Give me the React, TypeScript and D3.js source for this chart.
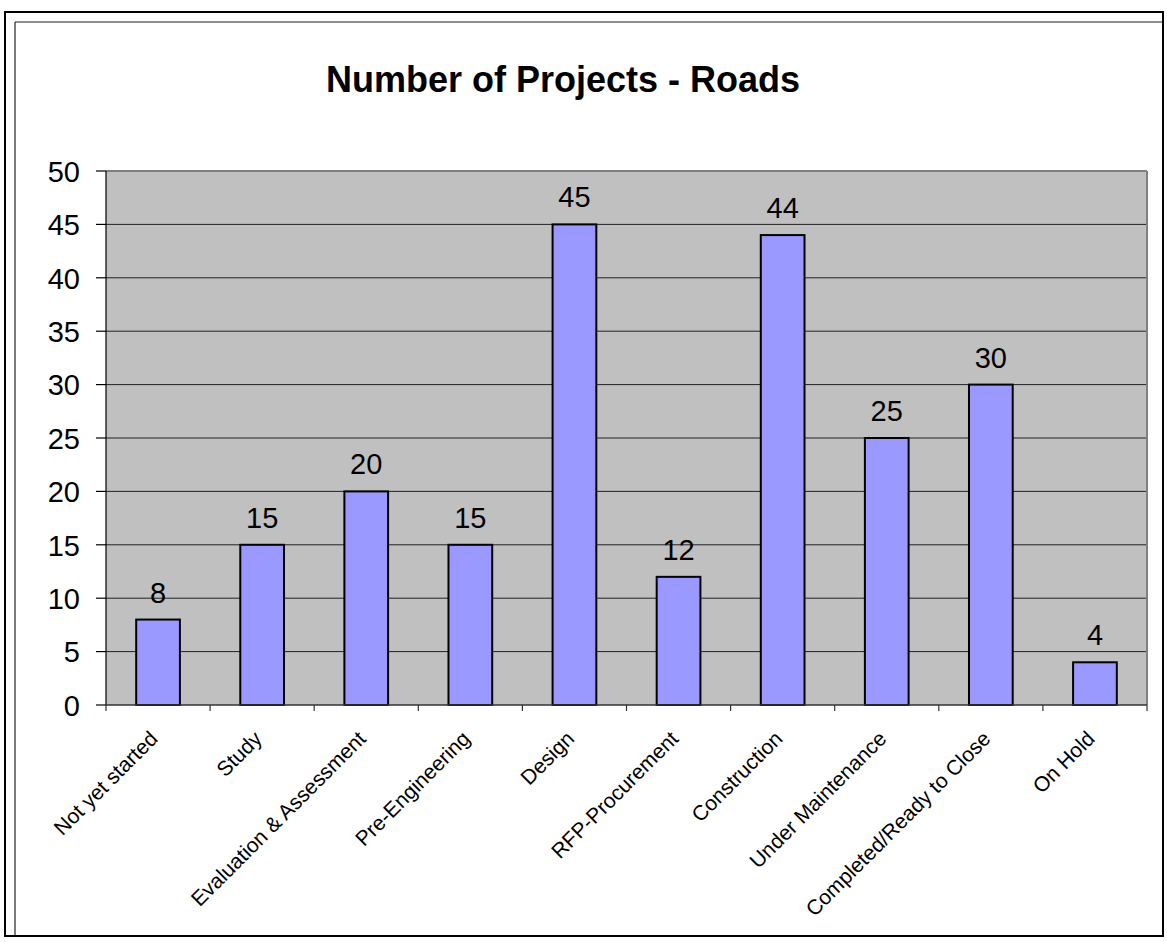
import React from "react";
import * as d3 from "d3";

const categories = [
  "Not yet started",
  "Study",
  "Evaluation & Assessment",
  "Pre-Engineering",
  "Design",
  "RFP-Procurement",
  "Construction",
  "Under Maintenance",
  "Completed/Ready to Close",
  "On Hold",
];
const values = [8, 15, 20, 15, 45, 12, 44, 25, 30, 4];
const yTicks = [0, 5, 10, 15, 20, 25, 30, 35, 40, 45, 50];
const title = "Number of Projects - Roads";

const W = 1167;
const H = 942;
const plot = { left: 106, right: 1147, top: 171, bottom: 705 };
const FONT = "Arial, 'Liberation Sans', sans-serif";

export default function App() {
  const x = d3
    .scaleBand<string>()
    .domain(categories)
    .range([plot.left, plot.right])
    .paddingInner(0.58)
    .paddingOuter(0.29);
  const y = d3.scaleLinear().domain([0, 50]).range([plot.bottom, plot.top]);
  const step = x.step();
  const boundaries = d3.range(categories.length + 1).map((i) => plot.left + i * step);

  return (
    <svg
      width={W}
      height={H}
      style={{ position: "absolute", left: 0, top: 0, background: "#fff" }}
      fontFamily={FONT}
    >
      {/* outer frame */}
      <rect x={5} y={12} width={1158} height={924} fill="#fff" stroke="#000" strokeWidth={2} />
      <line x1={15} y1={22} x2={1162} y2={22} stroke="#222" strokeWidth={1.2} />
      <line x1={15} y1={22} x2={15} y2={935} stroke="#222" strokeWidth={1.2} />

      {/* title */}
      <text x={563} y={92} textAnchor="middle" fontSize={36} fontWeight="bold" fill="#000">
        {title}
      </text>

      {/* plot area */}
      <rect
        x={plot.left}
        y={plot.top}
        width={plot.right - plot.left}
        height={plot.bottom - plot.top}
        fill="#C0C0C0"
      />
      {/* gridlines */}
      {yTicks
        .filter((t) => t > 0 && t < 50)
        .map((t) => (
          <line
            key={"g" + t}
            x1={plot.left}
            x2={plot.right}
            y1={y(t)}
            y2={y(t)}
            stroke="#222"
            strokeWidth={1}
          />
        ))}
      {/* plot border top/right */}
      <line x1={plot.left} x2={plot.right} y1={plot.top} y2={plot.top} stroke="#808080" strokeWidth={2} />
      <line x1={plot.right} x2={plot.right} y1={plot.top} y2={plot.bottom} stroke="#808080" strokeWidth={2} />

      {/* bars */}
      {categories.map((c, i) => (
        <rect
          key={"b" + c}
          x={x(c)}
          y={y(values[i])}
          width={x.bandwidth()}
          height={y(0) - y(values[i])}
          fill="#9999FF"
          stroke="#000"
          strokeWidth={2}
        />
      ))}

      {/* data labels */}
      {categories.map((c, i) => (
        <text
          key={"l" + c}
          x={(x(c) as number) + x.bandwidth() / 2}
          y={y(values[i]) - 17}
          textAnchor="middle"
          fontSize={29}
          fill="#000"
        >
          {values[i]}
        </text>
      ))}

      {/* y axis */}
      <line x1={plot.left} x2={plot.left} y1={plot.top} y2={plot.bottom} stroke="#000" strokeWidth={1.2} />
      {yTicks.map((t) => (
        <g key={"y" + t}>
          <line x1={plot.left - 10} x2={plot.left} y1={y(t)} y2={y(t)} stroke="#000" strokeWidth={1.2} />
          <text x={80} y={y(t)} dy="0.37em" textAnchor="end" fontSize={29} fill="#000">
            {t}
          </text>
        </g>
      ))}

      {/* x axis */}
      <line x1={plot.left} x2={plot.right} y1={plot.bottom} y2={plot.bottom} stroke="#333" strokeWidth={1.5} />
      {boundaries.map((bx, i) => (
        <line key={"xt" + i} x1={bx} x2={bx} y1={plot.bottom} y2={plot.bottom + 6} stroke="#333" strokeWidth={1.2} />
      ))}
      {categories.map((c) => {
        const cx = (x(c) as number) + x.bandwidth() / 2 + 1;
        const cy = 740;
        return (
          <text
            key={"x" + c}
            x={cx}
            y={cy}
            textAnchor="end"
            fontSize={21}
            fill="#000"
            transform={`rotate(-45 ${cx} ${cy})`}
          >
            {c}
          </text>
        );
      })}
    </svg>
  );
}
